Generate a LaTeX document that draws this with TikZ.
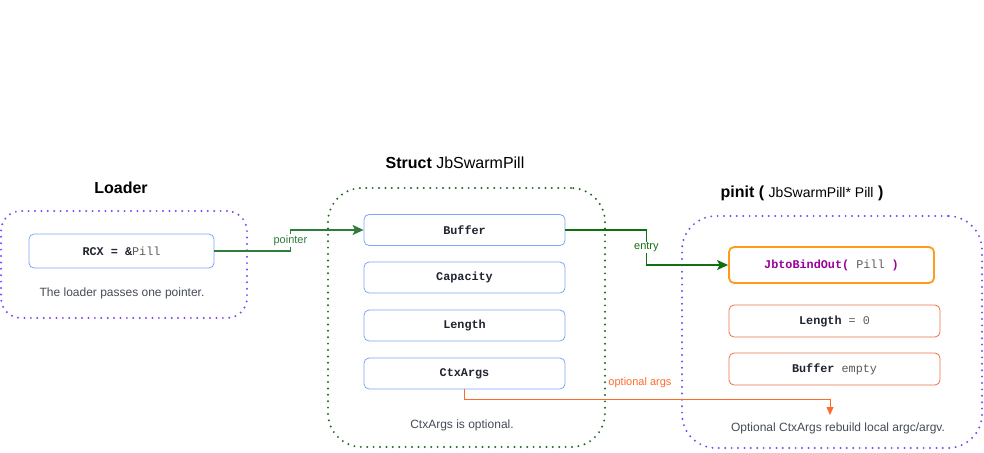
\documentclass[tikz,border=0pt]{standalone}
\usepackage{xcolor}
\usepackage{fontspec}
\setmainfont{Liberation Sans}
\setmonofont{Liberation Mono}
\usepackage{tikz}
\usetikzlibrary{arrows.meta,positioning,calc}
\definecolor{cInk}{HTML}{1F2430}
\definecolor{cGray}{HTML}{454B57}
\definecolor{cCode}{HTML}{5A5A5A}
\definecolor{cBlue}{HTML}{7EA6F8}
\definecolor{cPurple}{HTML}{7F45F5}
\definecolor{cForest}{HTML}{1E6B22}
\definecolor{cGreen}{HTML}{2E7D3A}
\definecolor{cDeep}{HTML}{107010}
\definecolor{cAmber}{HTML}{FF9A1A}
\definecolor{cCoral}{HTML}{E8734C}
\definecolor{cOrange}{HTML}{FF6A2B}
\definecolor{cMagenta}{HTML}{990099}
\tikzset{
  grp/.style={draw=#1,rounded corners=30pt,line width=2.2pt,line cap=round,dash pattern=on 0pt off 6.4pt,inner sep=0pt},
  fld/.style={draw=#1,fill=white,rounded corners=5pt,line width=0.8pt,inner sep=0pt,text=cInk,
    font=\ttfamily\fontsize{11.8}{13}\selectfont},
  fld/.default=cBlue,
  ttl/.style={font=\fontsize{16}{19}\selectfont,text=black,inner sep=1pt},
  note/.style={font=\fontsize{12}{14}\selectfont,text=cGray,inner sep=1pt},
  elbl/.style={font=\fontsize{11}{13}\selectfont,fill=white,inner sep=1pt},
  garr/.style={-{Stealth[length=11pt,width=10pt,inset=2.5pt]},line width=1.6pt,color=#1},
}

\begin{document}
\begin{tikzpicture}[x=1pt,y=-1pt]
  \useasboundingbox (0,0) rectangle (984,452);
  % groups
  \node[grp=cPurple,rounded corners=20pt,minimum width=246pt,minimum height=107pt] (loaderGrp) at (124,264.5) {};
  \node[grp=cForest,rounded corners=34pt,minimum width=277pt,minimum height=259pt] (structGrp) at (466.5,317.5) {};
  \node[grp=cPurple,rounded corners=34pt,minimum width=300pt,minimum height=232pt] (pinitGrp) at (832,332) {};

  \node[ttl] (tLoader) at (121,188) {\textbf{Loader}};
  \node[ttl] (tStruct) at (455,163) {\textbf{Struct} JbSwarmPill};
  \node[ttl] (tPinit) at (802,193) {\textbf{pinit (} {\fontsize{14}{16}\selectfont JbSwarmPill* Pill} \textbf{)}};

  % loader
  \node[fld,minimum width=185pt,minimum height=34pt] (rcx) at (121.5,251) {\textbf{RCX = \&}{\color{cCode}Pill}};
  \node[note] (cLoader) at (122,293) {The loader passes one pointer.};

  % struct fields
  \node[fld,minimum width=201pt,minimum height=31pt] (buf) at (464.5,230) {\textbf{Buffer}};
  \node[fld,minimum width=201pt,minimum height=31pt] (capy) at (464.5,277.5) {\textbf{Capacity}};
  \node[fld,minimum width=201pt,minimum height=31pt] (len) at (464.5,325.5) {\textbf{Length}};
  \node[fld,minimum width=201pt,minimum height=31pt] (ctx) at (464.5,373.5) {\textbf{CtxArgs}};
  \node[note] (cStruct) at (462,425) {CtxArgs is optional.};

  % pinit
  \node[fld=cAmber,line width=1.8pt,minimum width=205pt,minimum height=36pt] (bind) at (831.5,265)
    {\textcolor{cMagenta}{\textbf{JbtoBindOut(}} {\color{cCode}Pill} \textcolor{cMagenta}{\textbf{)}}};
  \node[fld=cCoral,minimum width=211pt,minimum height=32pt] (plen) at (834.5,321) {\textbf{Length} {\color{cCode}= 0}};
  \node[fld=cCoral,minimum width=211pt,minimum height=32pt] (pbuf) at (834.5,369) {\textbf{Buffer} {\color{cCode}empty}};
  \node[note] (cPinit) at (838,428) {Optional CtxArgs rebuild local argc/argv.};

  \coordinate (argEnd) at (830,415);

  % links
  \draw[garr=cGreen] (rcx.east) -- ++(76,0) |- (buf.west)
    node[elbl,text=cGreen,pos=0.25] (lPointer) {pointer};
  \draw[garr=cDeep] (buf.east) -- ++(81,0) |- (bind.west)
    node[elbl,text=cDeep,pos=0.25] (lEntry) {entry};
  \draw[-{Triangle[length=8pt,width=7pt]},line width=0.9pt,color=cOrange] (ctx.south) -- ++(0,10) -| (argEnd)
    node[font=\fontsize{11}{13}\selectfont,text=cOrange,inner sep=1pt,pos=0.24,above=10pt] (lOpt) {optional args};
\end{tikzpicture}
\end{document}
